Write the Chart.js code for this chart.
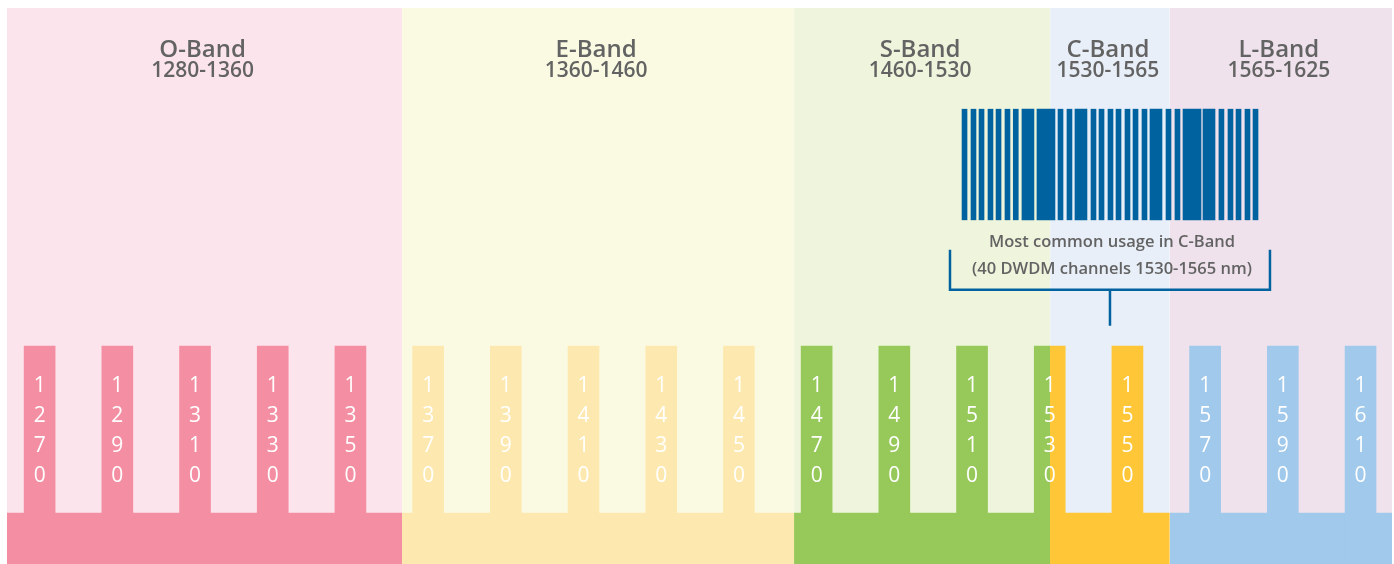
<!DOCTYPE html>
<html>
<head>
<meta charset="utf-8">
<script src="https://cdn.jsdelivr.net/npm/chart.js@4.4.1/dist/chart.umd.min.js"></script>
<style>
  html, body { margin: 0; padding: 0; background: #fff; }
  #wrap { width: 1394px; height: 564px; position: relative; }
</style>
</head>
<body>
<div id="wrap"><canvas id="bands"></canvas></div>
<script>
// Optical bands (drawn edges in nm, as placed in the picture)
const bandNames = ['O-Band', 'E-Band', 'S-Band', 'C-Band', 'L-Band'];
const bandRanges = ['1280-1360', '1360-1460', '1460-1530', '1530-1565', '1565-1625'];
const bandEdges = [1261.6, 1363.3, 1464.2, 1530.1, 1560.9, 1618.1];
const bandTints = ['#fce4ec', '#fafae2', '#eff5dc', '#e8eff8', '#efe2ec'];
const bandColors = ['#f48fa3', '#fde9b0', '#96c95a', '#ffc737', '#a0c9eb'];

// CWDM channels (nm)
const cwdmChannels = [1270, 1290, 1310, 1330, 1350, 1370, 1390, 1410, 1430, 1450,
  1470, 1490, 1510, 1530, 1550, 1570, 1590, 1610];

// relative heights (0-100)
const fullLevel = 100;
const baseLevel = 9.2;
const cwdmLevel = 39.2;
const combLevels = [61.9, 81.8];

// DWDM comb, nm on its own stretched axis
const dwdmRange = [1530, 1565];
const dwdmLines = [1530.30, 1531.36, 1532.31, 1533.37, 1534.32, 1535.38, 1536.36, 1541.65,
  1542.71, 1545.55, 1546.50, 1547.56, 1548.51, 1549.57, 1550.52, 1551.58, 1554.42, 1555.48,
  1560.68, 1561.75, 1562.70, 1563.76, 1564.71];
const dwdmPairs = [1537.80, 1544.07, 1552.94, 1559.21];
const dwdmTriples = [1539.93, 1557.20];
const dwdmNote = ['Most common usage in C-Band', '(40 DWDM channels 1530-1565 nm)'];

const combBlue = '#00639f';
const textGrey = '#636363';

function bandFill(i, level, order) {
  return {
    type: 'line',
    data: [{x: bandEdges[i], y: level}, {x: bandEdges[i + 1], y: level}],
    fill: 'origin',
    backgroundColor: level === fullLevel ? bandTints[i] : bandColors[i],
    borderColor: 'transparent',
    borderWidth: 0,
    pointRadius: 0,
    order: order
  };
}

function bandOf(w) {
  for (let i = 0; i < bandNames.length; i++) {
    if (w < bandEdges[i + 1]) return i;
  }
  return bandNames.length - 1;
}

// a bar that straddles a band edge gets split in two colours
function cwdmFill(c) {
  const w = cwdmChannels[c.dataIndex];
  const i = bandOf(w);
  const xs = c.chart.scales.x;
  if (!xs || xs.left === undefined) return bandColors[i];
  const half = 4;
  const edge = bandEdges.find(e => e > w - half && e < w + half);
  if (edge === undefined) return bandColors[i];
  const x0 = xs.getPixelForValue(w - half);
  const x1 = xs.getPixelForValue(w + half);
  const xe = xs.getPixelForValue(edge);
  const g = c.chart.ctx.createLinearGradient(x0, 0, x1, 0);
  const t = (xe - x0) / (x1 - x0);
  g.addColorStop(0, bandColors[bandOf(edge - 0.01)]);
  g.addColorStop(t, bandColors[bandOf(edge - 0.01)]);
  g.addColorStop(t, bandColors[bandOf(edge + 0.01)]);
  g.addColorStop(1, bandColors[bandOf(edge + 0.01)]);
  return g;
}

function comb(values, thickness) {
  return {
    type: 'bar',
    xAxisID: 'x2',
    data: values.map(v => ({x: v, y: combLevels})),
    backgroundColor: combBlue,
    barThickness: thickness,
    grouped: false,
    order: 1
  };
}

const datasets = [];
bandNames.forEach((n, i) => datasets.push(bandFill(i, fullLevel, 6)));
bandNames.forEach((n, i) => datasets.push(bandFill(i, baseLevel, 5)));
datasets.push({
  type: 'bar',
  data: cwdmChannels.map(w => ({x: w, y: cwdmLevel})),
  backgroundColor: cwdmFill,
  barThickness: 31,
  grouped: false,
  order: 3
});
const cwdmIndex = datasets.length - 1;
datasets.push(comb(dwdmLines, 5));
datasets.push(comb(dwdmPairs, 12));
datasets.push(comb(dwdmTriples, 18));

const labelsPlugin = {
  id: 'bandLabels',
  afterDatasetsDraw(chart) {
    const {ctx, chartArea, scales} = chart;
    const xs = scales.x, x2 = scales.x2, ys = scales.y;
    ctx.save();
    ctx.textAlign = 'center';
    ctx.textBaseline = 'alphabetic';

    // band titles
    ctx.fillStyle = textGrey;
    bandNames.forEach((name, i) => {
      const cx = (xs.getPixelForValue(bandEdges[i]) + xs.getPixelForValue(bandEdges[i + 1])) / 2 - 2;
      ctx.font = '600 24px "Open Sans"';
      ctx.fillText(name, cx, chartArea.top + 49);
      ctx.font = '600 21px "Open Sans"';
      ctx.fillText(bandRanges[i], cx, chartArea.top + 69);
    });

    // stacked digits in the CWDM bars
    ctx.fillStyle = '#ffffff';
    ctx.font = '500 21px "Open Sans"';
    chart.getDatasetMeta(cwdmIndex).data.forEach((bar, i) => {
      String(cwdmChannels[i]).split('').forEach((ch, k) => {
        ctx.fillText(ch, bar.x, bar.y + 46 + k * 30);
      });
    });

    // bracket under the DWDM comb
    const combBottom = ys.getPixelForValue(combLevels[0]);
    const left = x2.getPixelForValue(dwdmRange[0]) - 12;
    const right = x2.getPixelForValue(dwdmRange[1]) + 12;
    const mid = (left + right) / 2;
    ctx.strokeStyle = combBlue;
    ctx.lineWidth = 2.5;
    ctx.beginPath();
    ctx.moveTo(left, combBottom + 30);
    ctx.lineTo(left, combBottom + 70);
    ctx.lineTo(right, combBottom + 70);
    ctx.lineTo(right, combBottom + 30);
    ctx.moveTo(mid, combBottom + 70);
    ctx.lineTo(mid, combBottom + 106);
    ctx.stroke();

    ctx.fillStyle = textGrey;
    ctx.font = '600 16.5px "Open Sans"';
    ctx.fillText(dwdmNote[0], mid + 2, combBottom + 27);
    ctx.fillText(dwdmNote[1], mid + 2, combBottom + 54);
    ctx.restore();
  }
};

new Chart(document.getElementById('bands'), {
  type: 'bar',
  data: {datasets},
  options: {
    responsive: true,
    maintainAspectRatio: false,
    animation: false,
    layout: {padding: {left: 7, right: 2, top: 8, bottom: 0}},
    plugins: {legend: {display: false}, tooltip: {enabled: false}},
    scales: {
      x: {type: 'linear', min: 1261.6, max: 1618.1, offset: false, display: false},
      x2: {type: 'linear', axis: 'x', min: 1417.07, max: 1580.85, offset: false, display: false},
      y: {min: 0, max: fullLevel, display: false}
    }
  },
  plugins: [labelsPlugin]
});
</script>
</body>
</html>
